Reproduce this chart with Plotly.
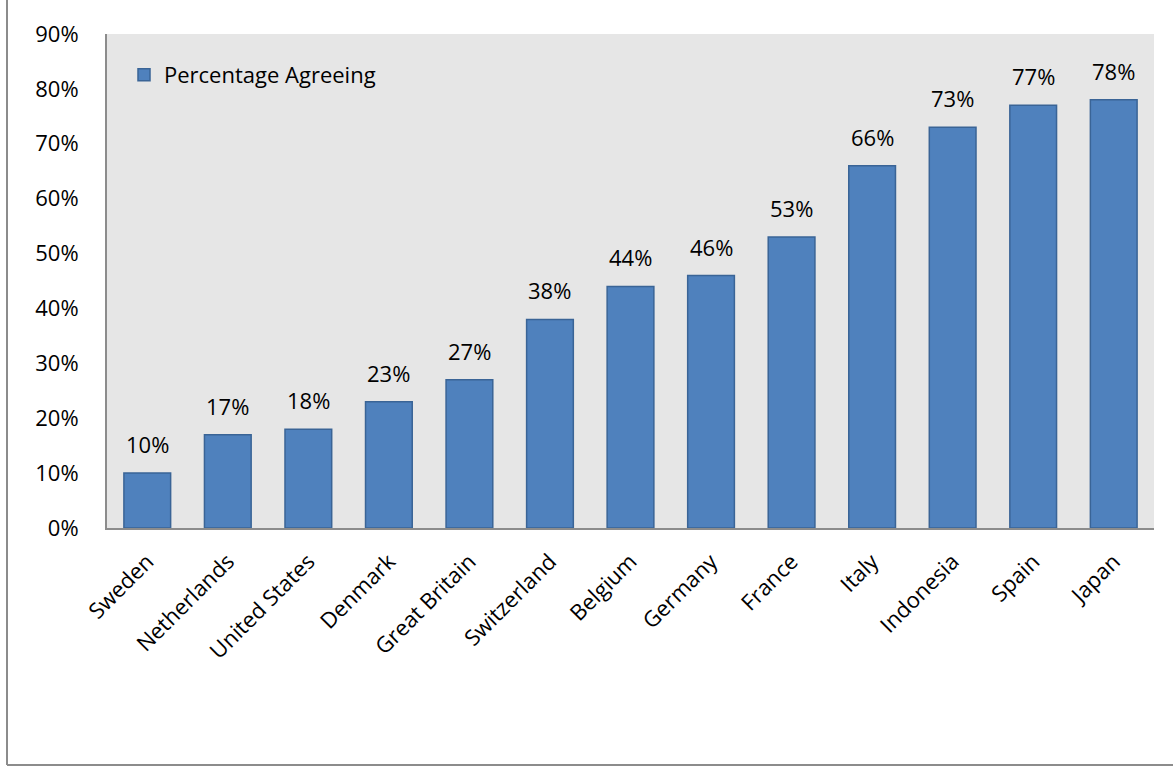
import plotly.graph_objects as go

countries = ["Sweden", "Netherlands", "United States", "Denmark", "Great Britain",
             "Switzerland", "Belgium", "Germany", "France", "Italy", "Indonesia",
             "Spain", "Japan"]
agree_pct = [10, 17, 18, 23, 27, 38, 44, 46, 53, 66, 73, 77, 78]
y_ticks = [0, 10, 20, 30, 40, 50, 60, 70, 80, 90]

W, H = 1173, 770
L, R, T, B = 107, 19, 34, 242
pw, ph = W - L - R, H - T - B

def px_x(x):
    return (x - L) / pw

def px_y(y):
    return (H - B - y) / ph

font_family = "Open Sans, Noto Sans, sans-serif"
FS = 22

fig = go.Figure()
fig.add_trace(go.Bar(
    x=countries, y=agree_pct, name="Percentage Agreeing",
    marker=dict(color="#4f81bd", line=dict(color="#3a6496", width=1.5)),
    showlegend=True,
))

for c, v in zip(countries, agree_pct):
    fig.add_annotation(x=c, y=v, text=f"{v}%", showarrow=False,
                       yanchor="bottom", yshift=12,
                       font=dict(size=FS, color="#000000"))

fig.update_layout(
    width=W, height=H,
    margin=dict(l=L, r=R, t=T, b=B),
    paper_bgcolor="white", plot_bgcolor="#e6e6e6",
    font=dict(family=font_family, size=FS, color="#000000"),
    bargap=0.42,
    showlegend=True,
    legend=dict(x=px_x(124), y=px_y(75), xanchor="left", yanchor="middle",
                bgcolor="rgba(0,0,0,0)", font=dict(size=FS),
                itemwidth=30),
    xaxis=dict(showline=True, linecolor="#8c8c8c", linewidth=2,
               tickangle=-45, showgrid=False, ticks="",
               tickfont=dict(size=FS), ticklabelstandoff=10),
    yaxis=dict(range=[0, 90], tickvals=y_ticks,
               ticktext=[f"{v}%" for v in y_ticks],
               showline=True, linecolor="#8c8c8c", linewidth=2,
               showgrid=False, zeroline=False, ticks="",
               tickfont=dict(size=FS), ticklabelstandoff=22),
    shapes=[
        dict(type="line", xref="paper", yref="paper",
             x0=px_x(7), x1=px_x(W), y0=px_y(H - 5), y1=px_y(H - 5),
             line=dict(color="#8c8c8c", width=2)),
        dict(type="line", xref="paper", yref="paper",
             x0=px_x(7), x1=px_x(7), y0=px_y(H - 5), y1=px_y(0),
             line=dict(color="#8c8c8c", width=2)),
    ],
)

fig.write_html("out.html")
